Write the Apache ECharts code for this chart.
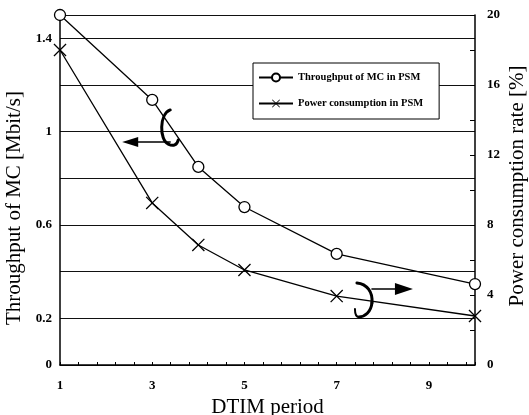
<!DOCTYPE html>
<html>
<head>
<meta charset="utf-8">
<script src="https://cdn.jsdelivr.net/npm/echarts@6/dist/echarts.min.js"></script>
<style>html,body{margin:0;padding:0;background:#fff}#c{width:529px;height:415px}</style>
</head>
<body>
<div id="c"></div>
<script>
const dtim = [1, 3, 4, 5, 7, 10];
const throughput = [1.5, 1.136, 0.849, 0.677, 0.476, 0.347];
const power = [18.0, 9.26, 6.86, 5.43, 3.94, 2.8];
const xTickLabels = [1, 3, 5, 7, 9];
const leftTickLabels = [0, 0.2, 0.6, 1, 1.4];
const seriesNames = ['Throughput of MC in PSM', 'Power consumption in PSM'];
const leftArrowAnchor = [3.39, 1.016];
const rightArrowAnchor = [7.57, 0.279];

const FONT = 'Liberation Serif';
const crossPath = 'path://M0,0.7L0.7,0L10,9.3L9.3,10ZM9.3,0L10,0.7L0.7,10L0,9.3Z';
const r1 = v => Math.round(v * 10) / 10;

const chart = echarts.init(document.getElementById('c'), null, {renderer: 'canvas'});
chart.setOption({
  animation: false,
  backgroundColor: '#fff',
  grid: {left: 60, right: 54, top: 15, bottom: 50, outerBoundsMode: 'none'},
  legend: {
    orient: 'vertical', left: 253, top: 63,
    data: seriesNames,
    itemWidth: 34, itemHeight: 10, itemGap: 15,
    backgroundColor: '#fff', borderColor: '#000', borderWidth: 1,
    padding: [9, 16, 10, 5],
    textStyle: {fontFamily: FONT, fontSize: 10.5, fontWeight: 'bold', color: '#000'}
  },
  xAxis: {
    type: 'value', min: 1, max: 10, interval: 0.4,
    name: 'DTIM period', nameLocation: 'middle', nameGap: 29,
    nameTextStyle: {fontFamily: FONT, fontSize: 21, color: '#000'},
    axisLine: {lineStyle: {color: '#000', width: 1.5}},
    axisTick: {show: true, inside: true, length: 3, lineStyle: {color: '#000'}},
    splitLine: {show: false},
    axisLabel: {
      margin: 14, color: '#000', fontFamily: FONT, fontSize: 13, fontWeight: 'bold',
      formatter: v => xTickLabels.includes(r1(v)) ? String(r1(v)) : ''
    }
  },
  yAxis: [{
    type: 'value', min: 0, max: 1.5, interval: 0.2, position: 'left',
    name: 'Throughput of MC [Mbit/s]', nameLocation: 'middle', nameGap: 24,
    nameTextStyle: {fontFamily: FONT, fontSize: 21, color: '#000', padding: [0, 36, 0, 0]},
    axisLine: {show: true, lineStyle: {color: '#000', width: 1.5}},
    axisTick: {show: false},
    splitLine: {show: true, lineStyle: {color: '#111', width: 1.2}},
    axisLabel: {
      margin: 8, color: '#000', fontFamily: FONT, fontSize: 13, fontWeight: 'bold',
      formatter: v => leftTickLabels.includes(r1(v)) ? String(r1(v)) : ''
    }
  }, {
    type: 'value', min: 0, max: 20, interval: 4, position: 'right',
    name: 'Power consumption rate [%]', nameLocation: 'middle', nameGap: 32,
    nameMoveOverlap: false,
    nameTextStyle: {fontFamily: FONT, fontSize: 21, color: '#000', padding: [0, 0, 0, 8]},
    axisLine: {show: true, lineStyle: {color: '#000', width: 1.5}},
    axisTick: {show: true, inside: true, length: 5, lineStyle: {color: '#000'}},
    minorTick: {show: true, splitNumber: 2, length: 5, lineStyle: {color: '#000'}},
    splitLine: {show: false},
    axisLabel: {margin: 12, color: '#000', fontFamily: FONT, fontSize: 13, fontWeight: 'bold'}
  }],
  series: [{
    name: seriesNames[0], type: 'line', yAxisIndex: 0,
    data: dtim.map((x, i) => [x, throughput[i]]),
    symbol: 'circle', symbolSize: 11,
    itemStyle: {color: '#fff', borderColor: '#000', borderWidth: 1.3},
    lineStyle: {color: '#000', width: 1.3},
    clip: false, z: 3
  }, {
    name: seriesNames[1], type: 'line', yAxisIndex: 1,
    data: dtim.map((x, i) => [x, power[i]]),
    symbol: crossPath, symbolSize: 13,
    itemStyle: {color: '#000'},
    lineStyle: {color: '#000', width: 1.3},
    clip: false, z: 3
  }]
});

const c1 = chart.convertToPixel({xAxisIndex: 0, yAxisIndex: 0}, leftArrowAnchor);
const c2 = chart.convertToPixel({xAxisIndex: 0, yAxisIndex: 0}, rightArrowAnchor);
const stroke = w => ({fill: null, stroke: '#000', lineWidth: w, lineCap: 'round'});
chart.setOption({
  graphic: [{
    type: 'group', x: c1[0], y: c1[1], z: 10,
    children: [
      {type: 'bezierCurve', shape: {x1: 0, y1: -18, cpx1: -11, cpy1: -14, cpx2: -11, cpy2: 12, x2: -2, y2: 16}, style: stroke(3)},
      {type: 'bezierCurve', shape: {x1: -2, y1: 16, cpx1: 3, cpy1: 19, cpx2: 7, cpy2: 17, x2: 8, y2: 12}, style: stroke(3)},
      {type: 'line', shape: {x1: 0, y1: 14, x2: -32, y2: 14}, style: stroke(1.5)},
      {type: 'polygon', shape: {points: [[-32, 9], [-48, 14], [-32, 19]]}, style: {fill: '#000'}}
    ]
  }, {
    type: 'group', x: c2[0], y: c2[1], z: 10,
    children: [
      {type: 'bezierCurve', shape: {x1: -6, y1: -17, cpx1: 4, cpy1: -16, cpx2: 10, cpy2: -8, x2: 9, y2: 3}, style: stroke(3)},
      {type: 'bezierCurve', shape: {x1: 9, y1: 3, cpx1: 8, cpy1: 12, cpx2: 2, cpy2: 17, x2: -4, y2: 17}, style: stroke(3)},
      {type: 'bezierCurve', shape: {x1: -4, y1: 17, cpx1: -7, cpy1: 17, cpx2: -8, cpy2: 13, x2: -8, y2: 9}, style: stroke(2)},
      {type: 'line', shape: {x1: 9, y1: -11, x2: 32, y2: -11}, style: stroke(1.5)},
      {type: 'polygon', shape: {points: [[32, -17], [50, -11], [32, -5]]}, style: {fill: '#000'}}
    ]
  }]
});
</script>
</body>
</html>
